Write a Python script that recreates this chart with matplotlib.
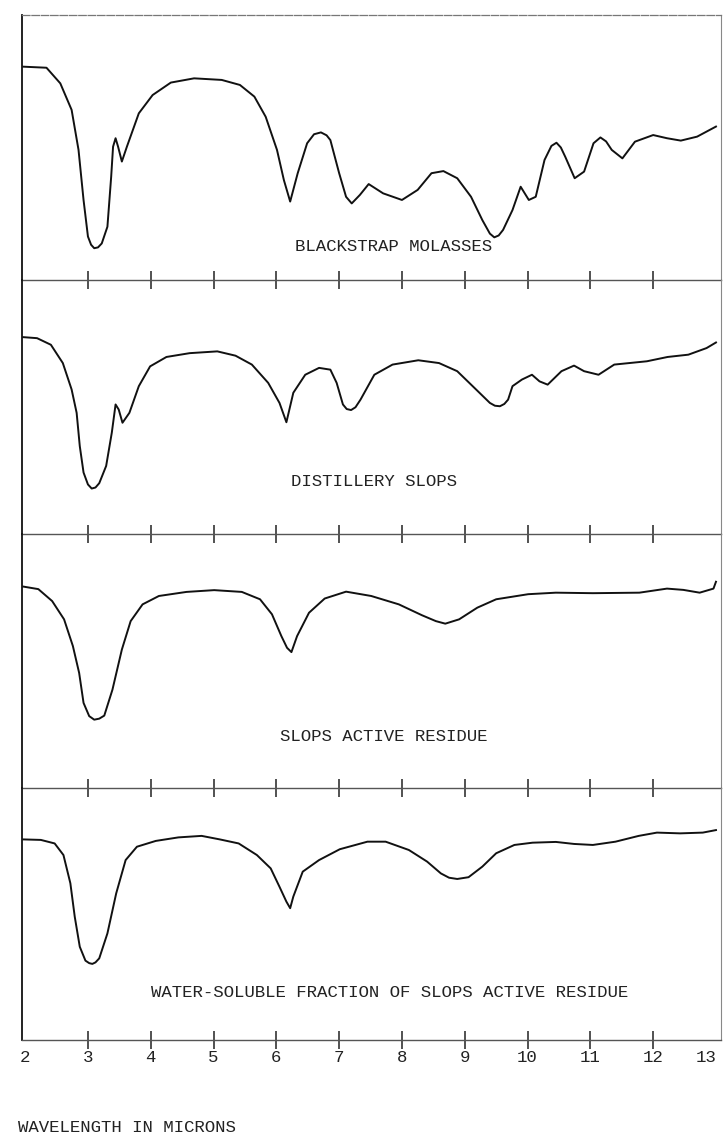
import matplotlib
matplotlib.use("agg")
import matplotlib.pyplot as plt

# wavelength (microns) and relative transmittance (% of panel height)
wl_molasses = [1.97, 2.34, 2.56, 2.74, 2.85, 2.93, 3.00, 3.05, 3.10, 3.16, 3.22, 3.31, 3.37,
               3.40, 3.44, 3.48, 3.54, 3.62, 3.81, 4.03, 4.32, 4.69, 5.13, 5.42, 5.65, 5.83,
               6.01, 6.12, 6.22, 6.34, 6.49, 6.60, 6.71, 6.80, 6.86, 7.00, 7.11, 7.20, 7.33,
               7.47, 7.70, 8.00, 8.25, 8.47, 8.66, 8.88, 9.10, 9.28, 9.40, 9.47, 9.54, 9.61,
               9.76, 9.89, 10.02, 10.13, 10.27, 10.38, 10.46, 10.53, 10.60, 10.75, 10.90,
               11.05, 11.16, 11.25, 11.34, 11.51, 11.71, 12.00, 12.22, 12.44, 12.70, 13.00]
t_molasses = [80.5, 80.1, 74.2, 64.2, 49.1, 30.2, 16.4, 13.3, 12.0, 12.3, 13.8, 20.1, 39.0,
              50.3, 53.5, 50.3, 44.7, 50.3, 62.9, 69.8, 74.5, 76.1, 75.5, 73.6, 69.2, 61.6,
              49.1, 37.7, 29.6, 40.3, 51.6, 55.0, 55.7, 54.6, 52.8, 40.3, 31.4, 28.9, 32.1,
              36.2, 32.7, 30.2, 34.0, 40.3, 41.1, 38.4, 31.4, 22.6, 17.5, 16.1, 16.8, 18.9,
              26.4, 35.2, 30.2, 31.4, 45.3, 50.6, 51.8, 50.0, 46.5, 38.4, 40.9,
              51.6, 53.8, 52.3, 49.1, 45.9, 52.2, 54.7, 53.5, 52.6, 54.1, 57.9]

wl_slops = [1.97, 2.19, 2.41, 2.60, 2.74, 2.82, 2.87, 2.93, 3.00, 3.06, 3.12, 3.18, 3.29,
            3.38, 3.44, 3.49, 3.55, 3.66, 3.81, 3.99, 4.25, 4.62, 5.06, 5.35, 5.61, 5.87,
            6.05, 6.16, 6.27, 6.46, 6.68, 6.86, 6.96, 7.06, 7.12, 7.19, 7.26, 7.34, 7.56,
            7.85, 8.26, 8.59, 8.88, 9.18, 9.40, 9.48, 9.56, 9.63, 9.69, 9.76, 9.91, 10.07,
            10.19, 10.32, 10.54, 10.74, 10.90, 11.13, 11.38, 11.90, 12.23, 12.56, 12.85,
            13.00]
t_slops = [77.5, 77.1, 74.5, 67.3, 56.9, 47.7, 34.6, 24.2, 19.5, 17.9, 18.3, 20.0, 26.8,
           39.9, 51.0, 49.0, 43.8, 47.7, 58.2, 66.0, 69.7, 71.2, 71.9, 70.2, 66.7, 59.5,
           51.6, 44.0, 55.6, 62.7, 65.4, 64.7, 59.5, 51.0, 49.2, 48.8, 49.9, 52.9, 62.7,
           66.7, 68.4, 67.3, 64.1, 56.9, 51.6, 50.5, 50.3, 51.2, 52.9, 58.2, 60.8, 62.7,
           60.1, 58.8, 64.1, 66.3, 64.1, 62.7, 66.7, 68.0, 69.7, 70.6, 73.2,
           75.4]

wl_residue = [1.97, 2.21, 2.43, 2.62, 2.76, 2.86, 2.93, 3.02, 3.10, 3.18, 3.26, 3.39, 3.54,
              3.68, 3.87, 4.13, 4.57, 5.01, 5.45, 5.74, 5.93, 6.08, 6.17, 6.24, 6.33, 6.52,
              6.77, 7.11, 7.51, 7.95, 8.32, 8.54, 8.69, 8.91, 9.20, 9.50, 10.01, 10.45,
              11.04, 11.78, 12.22, 12.48, 12.74, 12.96, 13.00]
t_residue = [79.3, 78.3, 73.6, 66.4, 55.9, 45.3, 33.5, 28.3, 26.9, 27.3, 28.5, 38.7, 54.5,
             65.7, 72.3, 75.6, 77.2, 77.9, 77.2, 74.3, 68.4, 59.8, 55.2, 53.5, 59.8, 69.0,
             74.6, 77.3, 75.6, 72.3, 68.0, 65.7, 64.7, 66.4, 71.0, 74.3, 76.3, 76.9,
             76.7, 76.9, 78.5, 78.0, 76.9, 78.5, 81.2]

wl_soluble = [1.97, 2.25, 2.47, 2.61, 2.72, 2.79, 2.87, 2.96, 3.02, 3.07, 3.12, 3.18, 3.31,
              3.45, 3.60, 3.78, 4.08, 4.44, 4.81, 5.10, 5.40, 5.69, 5.91, 6.05, 6.16, 6.22,
              6.27, 6.42, 6.68, 7.01, 7.45, 7.74, 8.11, 8.40, 8.62, 8.75, 8.88, 9.06, 9.28,
              9.50, 9.79, 10.08, 10.45, 10.74, 11.04, 11.40, 11.77, 12.06, 12.43, 12.79,
              13.00]
t_soluble = [79.6, 79.4, 78.0, 73.4, 62.2, 48.9, 37.0, 31.5, 30.5, 30.2, 30.8, 32.4, 42.3,
             58.2, 71.4, 76.7, 79.0, 80.4, 81.0, 79.6, 78.0, 73.4, 68.1, 60.8, 54.9, 52.3,
             56.9, 66.8, 71.4, 75.7, 78.7, 78.7, 75.4, 70.8, 66.1, 64.4, 63.9, 64.6, 68.8,
             74.1, 77.4, 78.3, 78.6, 77.8, 77.4, 78.7, 81.0, 82.3, 82.0, 82.3,
             83.3]

labels = ['BLACKSTRAP MOLASSES', 'DISTILLERY SLOPS', 'SLOPS ACTIVE RESIDUE',
          'WATER-SOLUBLE FRACTION OF SLOPS ACTIVE RESIDUE']
label_x = [7.86, 7.56, 7.71, 7.81]
label_y = [12.5, 20.8, 20.2, 19.0]

tick_pos = list(range(2, 14))
tick_text = [str(t) for t in tick_pos]

plt.rcParams['font.family'] = ['Liberation Mono', 'DejaVu Sans Mono']

W, H = 724, 1134
fig = plt.figure(figsize=(W / 100, H / 100), dpi=100)

# panel boundaries in pixels (top edge, axis line)
bounds = [(15, 280), (280, 534), (534, 788), (788, 1040)]
series = [(wl_molasses, t_molasses), (wl_slops, t_slops),
          (wl_residue, t_residue), (wl_soluble, t_soluble)]

for i, ((top, bot), (wl, tr)) in enumerate(zip(bounds, series)):
    ax = fig.add_axes([22 / W, 1 - bot / H, 699 / W, (bot - top) / H])
    ax.patch.set_visible(False)
    ax.plot(wl, tr, color='#111111', lw=1.4, solid_joinstyle='round')
    ax.set_xlim(1.95, 13.08)
    ax.set_ylim(0, 100)
    ax.text(label_x[i], label_y[i], labels[i], ha='center', va='center',
            fontsize=12.5, color='#222222')

    ax.spines['left'].set_color('#111111')
    ax.spines['left'].set_linewidth(1.3)
    ax.spines['right'].set_color('#888888')
    ax.spines['right'].set_linewidth(0.8)
    ax.spines['right'].set_linestyle((0, (3, 1)))
    ax.spines['bottom'].set_color('#555555')
    ax.spines['bottom'].set_linewidth(1.0)
    if i == 0:
        ax.spines['top'].set_color('#777777')
        ax.spines['top'].set_linewidth(0.9)
        ax.spines['top'].set_linestyle((0, (6, 1.5)))
    else:
        ax.spines['top'].set_visible(False)

    ax.set_yticks([])
    ax.set_xticks(tick_pos)
    ax.tick_params(axis='x', direction='inout', length=13, width=1.1,
                   color='#222222', pad=1, labelsize=12.5, labelcolor='#222222')
    ticks = ax.xaxis.get_major_ticks()
    ticks[0].tick1line.set_visible(False)
    ticks[-1].tick1line.set_visible(False)
    if i == 3:
        ax.set_xticklabels(tick_text)
        lbls = ax.get_xticklabels()
        lbls[-1].set_horizontalalignment('right')
        lbls[-1].set_x(13.08)
    else:
        ax.set_xticklabels([])

fig.text(18 / W, 1 - 1127 / H, 'WAVELENGTH IN MICRONS', ha='left', va='center',
         fontsize=12.5, color='#222222')

fig.savefig('out.png', dpi=100, facecolor='white')
